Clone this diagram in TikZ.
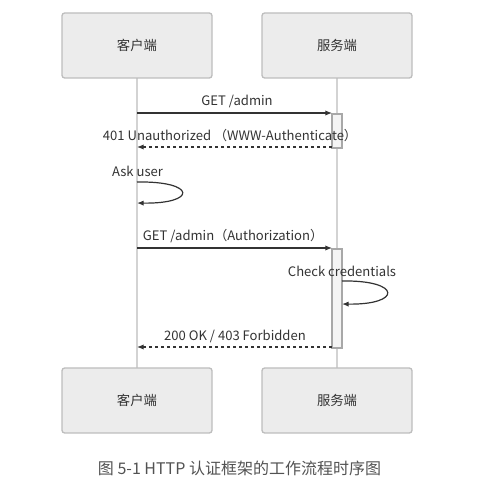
\documentclass[tikz,border=0pt]{standalone}
\usepackage{fontspec}
\setmainfont{Noto Sans CJK SC}
\usetikzlibrary{arrows.meta, positioning}

\definecolor{boxfill}{HTML}{ECECEC}
\definecolor{boxline}{HTML}{BDBDBD}
\definecolor{lifeline}{HTML}{D3D3D3}
\definecolor{msgline}{HTML}{333333}
\definecolor{actfill}{HTML}{F4F4F4}
\definecolor{actline}{HTML}{A8A8A8}
\definecolor{txt}{HTML}{333333}

\tikzset{
    party/.style={draw=boxline, line width=1pt, fill=boxfill, rounded corners=2pt,
        minimum width=112.5pt, minimum height=48.75pt, inner sep=0pt,
        font=\fontsize{10pt}{12pt}\selectfont, text=txt},
    actbox/.style={draw=actline, line width=1pt, fill=actfill},
    msg/.style={draw=msgline, line width=0.9pt, -{Latex[length=5pt,width=4pt]}},
    reply/.style={msg, dashed, dash pattern=on 2.5pt off 2pt},
    msglabel/.style={font=\fontsize{9.8pt}{11pt}\selectfont, text=txt, inner sep=0pt}
}

\begin{document}
\begin{tikzpicture}[x=0.75pt, y=-0.75pt]
\useasboundingbox (0,0) rectangle (494,485);

% Lifelines
\draw[lifeline, line width=1pt] (137,78) -- (137,368);
\draw[lifeline, line width=1pt] (337,78) -- (337,368);

% Participants, top and bottom
\node[party] (clientTop) at (137,45.5) {客户端};
\node[party] (serverTop) at (337,45.5) {服务端};
\node[party] (clientBot) at (137,400.5) {客户端};
\node[party] (serverBot) at (337,400.5) {服务端};

% Activation bars
\draw[actbox] (332,114) rectangle (342,148);
\draw[actbox] (332,249) rectangle (342,348);

% Message end points
\coordinate (c1) at (137,113);
\coordinate (s1) at (332,113);
\coordinate (s2) at (332,147);
\coordinate (c2) at (137,147);
\coordinate (c3) at (137,182);
\coordinate (c4) at (137,203);
\coordinate (c5) at (137,248);
\coordinate (s5) at (332,248);
\coordinate (s6) at (342,281);
\coordinate (s7) at (342,304);
\coordinate (s8) at (332,347);
\coordinate (c8) at (137,347);

% First request
\draw[msg] (c1) -- (s1);
\node[msglabel] (getA) at (237,101) {GET /admin};
\draw[reply] (s2) -- (c2);
\node[msglabel] (unauth) at (230,136) {401 Unauthorized （WWW-Authenticate）};

% Ask user
\draw[msg] (c3) .. controls (197,181) and (197,204) .. (c4);
\node[msglabel] (askUser) at (137.5,171) {Ask user};

% Second request
\draw[msg] (c5) -- (s5);
\node[msglabel] (getB) at (233,236) {GET /admin（Authorization）};
\node[msglabel] (check) at (342,271) {Check credentials};
\draw[msg] (s6) .. controls (402,280) and (402,305) .. (s7);
\draw[reply] (s8) -- (c8);
\node[msglabel] (result) at (235,336) {200 OK / 403 Forbidden};

% Caption
\node[font=\fontsize{12pt}{14pt}\selectfont, text=txt!85, inner sep=0pt] (caption) at (239.5,468) {图 5-1 HTTP 认证框架的工作流程时序图};

\end{tikzpicture}
\end{document}
